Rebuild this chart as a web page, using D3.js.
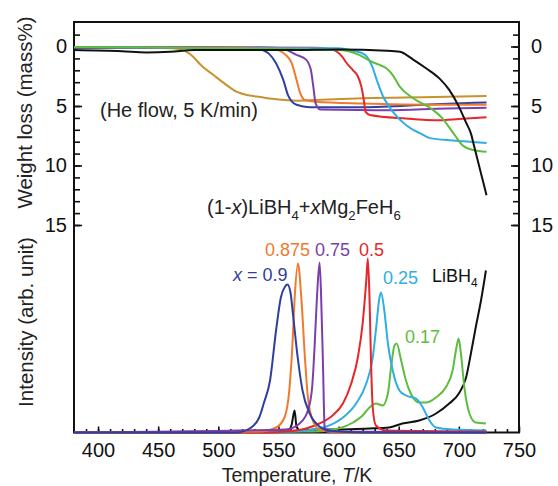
<!DOCTYPE html>
<html>
<head>
<meta charset="utf-8">
<script src="https://cdn.jsdelivr.net/npm/d3@7"></script>
<style>
  body { margin: 0; background: #fff; }
  text { font-family: "Liberation Sans", Arial, sans-serif; }
</style>
</head>
<body>
<div id="chart"></div>
<script>
const width = 558;
const height = 486;

// weight loss (mass%) vs temperature (K)
const tgGold = [[380,0.1],[440,0.1],[462,0.15],[470,0.3],[476,0.6],[487,1.7],[496,2.4],[505,3.1],[515,3.8],[525,4.1],[535,4.25],[545,4.4],[555,4.5],[565,4.55],[580,4.5],[620,4.35],[680,4.25],[723,4.15]];
const tg090 = [[380,0.1],[530,0.15],[537,0.3],[542,0.6],[548,1.4],[554,2.8],[558,4.1],[565,4.9],[576,5.1],[620,5.1],[680,4.85],[723,4.7]];
const tg0875 = [[380,0.05],[540,0.1],[550,0.3],[556,0.7],[561,1.4],[565,2.8],[568,3.9],[572,4.5],[581,4.65],[620,4.8],[680,4.9],[723,4.9]];
const tg075 = [[380,0.05],[545,0.1],[554,0.2],[565,0.7],[573,1.1],[577,2.0],[579,3.4],[581,4.8],[585,5.3],[640,5.35],[690,5.2],[723,5.15]];
const tg050 = [[380,0.05],[580,0.1],[592,0.2],[598,0.4],[603,0.85],[606,1.3],[612,2.0],[616,2.5],[619,3.4],[621,4.5],[622.5,5.5],[626,5.75],[656,6.05],[684,6.2],[700,6.1],[723,5.95]];
const tg025 = [[380,0.05],[600,0.15],[612,0.35],[622,0.7],[628,1.7],[632,2.9],[637,4.2],[642,5.05],[646,5.6],[656,6.6],[662,7.0],[668,7.3],[676,7.7],[695,7.9],[723,8.1]];
const tg017 = [[380,0.05],[600,0.3],[617,0.7],[628,1.3],[634,1.55],[640,1.85],[645,2.4],[651,3.4],[662,4.35],[678,5.3],[686,6.0],[692,6.8],[697,7.5],[703,8.3],[712,8.7],[723,8.85]];
const tgLiBH4 = [[380,0.3],[420,0.4],[440,0.5],[460,0.45],[480,0.3],[520,0.3],[560,0.3],[600,0.25],[640,0.35],[651,0.45],[662,1.1],[673,1.85],[684,2.7],[692,3.65],[700,5.05],[706,6.4],[710,7.3],[713,8.5],[718,10.5],[723,12.5]];

// MS intensity (arb. unit) vs temperature (K)
const ms090 = [[380,0],[515,0],[526,4],[534,15],[538,30],[543,52],[548,102],[552,135],[555.5,146],[557.5,148],[560,140],[562,119],[566,75],[570,42],[576,19],[584,6],[592,2],[620,0],[723,0]];
const ms0875 = [[380,0],[534,1],[548,5],[555,15],[559,42],[561.5,85],[563.5,135],[566.2,169],[569,135],[572,75],[574.5,35],[578.6,12],[584,3],[600,0],[723,0]];
const ms075 = [[380,0],[556,3],[567.6,9],[574.5,22],[578,45],[580,85],[582,135],[584.2,170],[585.5,135],[587,69],[588.4,5],[590,1],[723,0]];
const ms050 = [[380,0],[540,0],[556,1],[573,4],[584,9],[595,17],[603.6,29],[610.5,49],[616,75],[620,109],[623,152],[624.3,174],[625.7,135],[627,69],[628.4,25],[631,7],[640,2],[723,1]];
const ms025 = [[380,0],[560,1],[579,3],[590,6],[603.6,15],[614.6,29],[623,49],[628.4,75],[631,102],[634,135],[635.3,140],[638,122],[641,89],[645,62],[650.6,42],[656,37],[664.4,34],[670,25],[675.5,12],[681,5],[695,3],[723,2]];
const ms017 = [[380,0],[580,1],[600,4],[612,10],[620,17],[625.7,25],[631,29],[636.7,27],[641,39],[643.6,65],[646.5,87],[648.3,89],[652,72],[656,52],[660,39],[667,30],[672.5,30],[681,35],[689,45],[694.8,62],[698,85],[699.8,94],[701.7,79],[704.6,45],[708.8,19],[714,10],[722.5,9]];
const msLiBH4 = [[380,0],[540,1],[558,2],[561,8],[563.4,22],[565,6],[568,2],[580,3],[600,3],[625.7,4],[642,5],[653,9],[667,12],[681,19],[692,29],[700,39],[706,55],[710,79],[714,105],[718.4,132],[722.5,162]];

const tempTicks = [400, 450, 500, 550, 600, 650, 700, 750];
const lossTicks = [0, 5, 10, 15];

const colors = {
  gold: "#c8922e", x090: "#2f3f9e", x0875: "#f07a2c", x075: "#7a3fac",
  x050: "#e6262b", x025: "#2eaee4", x017: "#5dbd3e", libh4: "#111"
};

const svg = d3.select("#chart").append("svg")
  .attr("width", width)
  .attr("height", height);

const x = d3.scaleLinear().domain([380, 750]).range([74, 519]);
const yLoss = d3.scaleLinear().domain([0, 15]).range([46.5, 225]);
const yInt = d3.scaleLinear().domain([0, 200]).range([432.5, 232.5]);

// frame
svg.append("rect")
  .attr("x", 74).attr("y", 22)
  .attr("width", 445).attr("height", 410.5)
  .attr("fill", "none").attr("stroke", "#111").attr("stroke-width", 2);

function styleAxis(g, size) {
  g.select(".domain").remove();
  g.attr("font-family", null).attr("font-size", null);
  g.selectAll("text").attr("font-size", size).attr("fill", "#111");
  g.selectAll("line").attr("stroke", "#111").attr("stroke-width", 1.6);
}

// left weight loss axis
svg.append("g").attr("transform", "translate(74,0)")
  .call(d3.axisLeft(yLoss).tickValues(d3.range(-1, 16)).tickSize(-6).tickFormat(""))
  .call(g => styleAxis(g, 20));
svg.append("g").attr("transform", "translate(74,0)")
  .call(d3.axisLeft(yLoss).tickValues(lossTicks).tickSize(-8).tickPadding(7))
  .call(g => styleAxis(g, 20));

// right weight loss axis
svg.append("g").attr("transform", "translate(519,0)")
  .call(d3.axisRight(yLoss).tickValues(d3.range(-1, 16)).tickSize(-6).tickFormat(""))
  .call(g => styleAxis(g, 20));
svg.append("g").attr("transform", "translate(519,0)")
  .call(d3.axisRight(yLoss).tickValues(lossTicks).tickSize(-8).tickPadding(12))
  .call(g => styleAxis(g, 20));

// bottom temperature axis
svg.append("g").attr("transform", "translate(0,432.5)")
  .call(d3.axisBottom(x).tickValues(d3.range(390, 750, 10)).tickSize(-3.5).tickFormat(""))
  .call(g => styleAxis(g, 20));
svg.append("g").attr("transform", "translate(0,432.5)")
  .call(d3.axisBottom(x).tickValues(tempTicks).tickSize(-6).tickPadding(10))
  .call(g => styleAxis(g, 20));

// curves
const lossLine = d3.line().x(d => x(d[0])).y(d => yLoss(d[1])).curve(d3.curveMonotoneX);
const intLine = d3.line().x(d => x(d[0])).y(d => yInt(d[1])).curve(d3.curveMonotoneX);

const tgSeries = [
  [tgGold, colors.gold], [tg090, colors.x090], [tg0875, colors.x0875], [tg075, colors.x075],
  [tg050, colors.x050], [tg025, colors.x025], [tg017, colors.x017], [tgLiBH4, colors.libh4]
];
const msSeries = [
  [msLiBH4, colors.libh4], [ms017, colors.x017], [ms025, colors.x025], [ms050, colors.x050],
  [ms0875, colors.x0875], [ms075, colors.x075], [ms090, colors.x090]
];

svg.append("g").selectAll("path").data(tgSeries).enter().append("path")
  .attr("d", d => lossLine(d[0]))
  .attr("fill", "none").attr("stroke", d => d[1]).attr("stroke-width", 2);

svg.append("g").selectAll("path").data(msSeries).enter().append("path")
  .attr("d", d => intLine(d[0]))
  .attr("fill", "none").attr("stroke", d => d[1]).attr("stroke-width", 2);

// rich text helper: segments of [text, style] with style "i" italic, "sub" subscript
function richText(px, py, parts, size, color, attrs) {
  const t = svg.append("text").attr("x", px).attr("y", py)
    .attr("font-size", size).attr("fill", color);
  if (attrs) attrs(t);
  let shifted = false;
  parts.forEach(([s, st]) => {
    const sp = t.append("tspan").text(s);
    if (st === "i") sp.attr("font-style", "italic");
    if (st === "sub") {
      sp.attr("font-size", size * 0.66).attr("dy", size * 0.28);
      shifted = true;
    } else if (shifted) {
      sp.attr("dy", -size * 0.28);
      shifted = false;
    }
  });
  return t;
}

// axis titles
richText(32, 112.5, [["Weight loss (mass%)"]], 20.5, "#222",
  t => t.attr("transform", "rotate(-90,32,112.5)").attr("text-anchor", "middle"));
richText(33, 322, [["Intensity (arb. unit)"]], 20.5, "#222",
  t => t.attr("transform", "rotate(-90,33,322)").attr("text-anchor", "middle"));
richText(297, 482, [["Temperature, "], ["T", "i"], ["/K"]], 19.5, "#222",
  t => t.attr("text-anchor", "middle"));

// annotations
richText(100, 117, [["(He flow, 5 K/min)"]], 20, "#222");
richText(207, 214, [["(1-"], ["x", "i"], [")LiBH"], ["4", "sub"], ["+"], ["x", "i"], ["Mg"], ["2", "sub"], ["FeH"], ["6", "sub"]], 20, "#222");

richText(233, 281, [["x", "i"], [" = 0.9"]], 18, colors.x090);
richText(265, 256, [["0.875"]], 18, colors.x0875);
richText(315, 256, [["0.75"]], 18, colors.x075);
richText(359, 256, [["0.5"]], 18, colors.x050);
richText(383, 284, [["0.25"]], 18, colors.x025);
richText(432, 282, [["LiBH"], ["4", "sub"]], 18, "#111");
richText(405, 343, [["0.17"]], 18, colors.x017);
</script>
</body>
</html>
